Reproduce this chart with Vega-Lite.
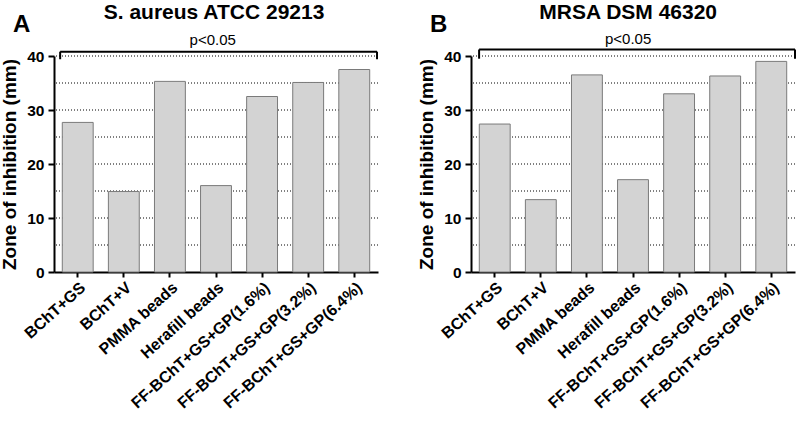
{
  "$schema": "https://vega.github.io/schema/vega-lite/v6.json",
  "padding": {"left": 0, "top": 2, "right": 0, "bottom": 0},
  "spacing": 38,
  "config": {
    "font": "Liberation Sans",
    "view": {"stroke": null},
    "axis": {"labelFont": "Liberation Sans", "titleFont": "Liberation Sans", "labelColor": "#000", "titleColor": "#000", "domainColor": "#000", "tickColor": "#000"}
  },
  "hconcat": [
    {
      "width": 324,
      "height": 216,
      "layer": [
        {
          "data": {"values": [{"g": 5}, {"g": 10}, {"g": 15}, {"g": 20}, {"g": 25}, {"g": 30}, {"g": 35}, {"g": 40}]},
          "mark": {"type": "rule", "color": "#000", "strokeWidth": 1, "strokeDash": [1, 2]},
          "encoding": {
            "y": {"field": "g", "type": "quantitative"}
          }
        },
        {
          "data": {"values": [
            {"cat": "BChT+GS", "value": 27.7},
            {"cat": "BChT+V", "value": 14.9},
            {"cat": "PMMA beads", "value": 35.3},
            {"cat": "Herafill beads", "value": 16.0},
            {"cat": "FF-BChT+GS+GP(1.6%)", "value": 32.5},
            {"cat": "FF-BChT+GS+GP(3.2%)", "value": 35.1},
            {"cat": "FF-BChT+GS+GP(6.4%)", "value": 37.5}
          ]},
          "mark": {"type": "bar", "fill": "#d3d3d3", "stroke": "#7a7a7a", "strokeWidth": 1},
          "encoding": {
            "x": {"field": "cat", "type": "nominal", "sort": null,
              "scale": {"paddingInner": 0.33, "paddingOuter": 0.18},
              "axis": {"title": null, "labelAngle": -42, "labelFontSize": 16, "labelFontWeight": "bold", "domainWidth": 2, "tickWidth": 2, "tickSize": 5, "labelPadding": 2}},
            "y": {"field": "value", "type": "quantitative",
              "scale": {"domain": [0, 40], "nice": false},
              "axis": {"title": "Zone of inhibition (mm)", "titleFontSize": 19, "titleFontWeight": "bold", "titlePadding": 7,
                "labelFontSize": 15.5, "labelFontWeight": "bold", "labelPadding": 4, "domainWidth": 2, "tickWidth": 2,
                "values": [0, 5, 10, 15, 20, 25, 30, 35, 40],
                "labelExpr": "datum.value % 10 === 0 ? datum.label : ''",
                "tickSize": {"condition": {"test": "datum.value % 10 === 0", "value": 6}, "value": 3},
                "grid": false}}
          }
        },
        {
          "data": {"values": [{"x1": 0.019, "x2": 0.997, "y": 40.8}]},
          "mark": {"type": "rule", "color": "#000", "strokeWidth": 2},
          "encoding": {
            "x": {"field": "x1", "type": "quantitative", "scale": {"domain": [0, 1]}, "axis": null},
            "x2": {"field": "x2"},
            "y": {"field": "y", "type": "quantitative"}
          }
        },
        {
          "data": {"values": [{"x": 0.019, "y1": 39.4, "y2": 40.8}, {"x": 0.997, "y1": 39.4, "y2": 40.8}]},
          "mark": {"type": "rule", "color": "#000", "strokeWidth": 2},
          "encoding": {
            "x": {"field": "x", "type": "quantitative", "scale": {"domain": [0, 1]}, "axis": null},
            "y": {"field": "y1", "type": "quantitative"},
            "y2": {"field": "y2"}
          }
        },
        {
          "data": {"values": [{"x": 0.49, "y": 42.9, "t": "p<0.05"}]},
          "mark": {"type": "text", "color": "#000", "baseline": "middle", "fontSize": 15},
          "encoding": {
            "x": {"field": "x", "type": "quantitative", "scale": {"domain": [0, 1]}, "axis": null},
            "y": {"field": "y", "type": "quantitative"},
            "text": {"field": "t"}
          }
        },
        {
          "data": {"values": [{"x": -0.1, "y": 45.7, "t": "A"}]},
          "mark": {"type": "text", "color": "#000", "baseline": "middle", "fontSize": 24, "fontWeight": "bold"},
          "encoding": {
            "x": {"field": "x", "type": "quantitative", "scale": {"domain": [0, 1]}, "axis": null},
            "y": {"field": "y", "type": "quantitative"},
            "text": {"field": "t"}
          }
        },
        {
          "data": {"values": [{"x": 0.494, "y": 47.9, "t": "S. aureus ATCC 29213"}]},
          "mark": {"type": "text", "color": "#000", "baseline": "middle", "fontSize": 21, "fontWeight": "bold"},
          "encoding": {
            "x": {"field": "x", "type": "quantitative", "scale": {"domain": [0, 1]}, "axis": null},
            "y": {"field": "y", "type": "quantitative"},
            "text": {"field": "t"}
          }
        }
      ],
      "resolve": {"scale": {"x": "independent"}}
    },
    {
      "width": 324,
      "height": 216,
      "layer": [
        {
          "data": {"values": [{"g": 5}, {"g": 10}, {"g": 15}, {"g": 20}, {"g": 25}, {"g": 30}, {"g": 35}, {"g": 40}]},
          "mark": {"type": "rule", "color": "#000", "strokeWidth": 1, "strokeDash": [1, 2]},
          "encoding": {
            "y": {"field": "g", "type": "quantitative"}
          }
        },
        {
          "data": {"values": [
            {"cat": "BChT+GS", "value": 27.4},
            {"cat": "BChT+V", "value": 13.4},
            {"cat": "PMMA beads", "value": 36.5},
            {"cat": "Herafill beads", "value": 17.1},
            {"cat": "FF-BChT+GS+GP(1.6%)", "value": 33.0},
            {"cat": "FF-BChT+GS+GP(3.2%)", "value": 36.3},
            {"cat": "FF-BChT+GS+GP(6.4%)", "value": 39.0}
          ]},
          "mark": {"type": "bar", "fill": "#d3d3d3", "stroke": "#7a7a7a", "strokeWidth": 1},
          "encoding": {
            "x": {"field": "cat", "type": "nominal", "sort": null,
              "scale": {"paddingInner": 0.33, "paddingOuter": 0.18},
              "axis": {"title": null, "labelAngle": -42, "labelFontSize": 16, "labelFontWeight": "bold", "domainWidth": 2, "tickWidth": 2, "tickSize": 5, "labelPadding": 2}},
            "y": {"field": "value", "type": "quantitative",
              "scale": {"domain": [0, 40], "nice": false},
              "axis": {"title": "Zone of inhibition (mm)", "titleFontSize": 19, "titleFontWeight": "bold", "titlePadding": 7,
                "labelFontSize": 15.5, "labelFontWeight": "bold", "labelPadding": 4, "domainWidth": 2, "tickWidth": 2,
                "values": [0, 5, 10, 15, 20, 25, 30, 35, 40],
                "labelExpr": "datum.value % 10 === 0 ? datum.label : ''",
                "tickSize": {"condition": {"test": "datum.value % 10 === 0", "value": 6}, "value": 3},
                "grid": false}}
          }
        },
        {
          "data": {"values": [{"x1": 0.025, "x2": 1.0, "y": 41.2}]},
          "mark": {"type": "rule", "color": "#000", "strokeWidth": 2},
          "encoding": {
            "x": {"field": "x1", "type": "quantitative", "scale": {"domain": [0, 1]}, "axis": null},
            "x2": {"field": "x2"},
            "y": {"field": "y", "type": "quantitative"}
          }
        },
        {
          "data": {"values": [{"x": 0.025, "y1": 39.5, "y2": 41.2}, {"x": 1.0, "y1": 39.5, "y2": 41.2}]},
          "mark": {"type": "rule", "color": "#000", "strokeWidth": 2},
          "encoding": {
            "x": {"field": "x", "type": "quantitative", "scale": {"domain": [0, 1]}, "axis": null},
            "y": {"field": "y1", "type": "quantitative"},
            "y2": {"field": "y2"}
          }
        },
        {
          "data": {"values": [{"x": 0.485, "y": 43.1, "t": "p<0.05"}]},
          "mark": {"type": "text", "color": "#000", "baseline": "middle", "fontSize": 15},
          "encoding": {
            "x": {"field": "x", "type": "quantitative", "scale": {"domain": [0, 1]}, "axis": null},
            "y": {"field": "y", "type": "quantitative"},
            "text": {"field": "t"}
          }
        },
        {
          "data": {"values": [{"x": -0.1, "y": 45.7, "t": "B"}]},
          "mark": {"type": "text", "color": "#000", "baseline": "middle", "fontSize": 24, "fontWeight": "bold"},
          "encoding": {
            "x": {"field": "x", "type": "quantitative", "scale": {"domain": [0, 1]}, "axis": null},
            "y": {"field": "y", "type": "quantitative"},
            "text": {"field": "t"}
          }
        },
        {
          "data": {"values": [{"x": 0.485, "y": 47.9, "t": "MRSA DSM 46320"}]},
          "mark": {"type": "text", "color": "#000", "baseline": "middle", "fontSize": 21, "fontWeight": "bold"},
          "encoding": {
            "x": {"field": "x", "type": "quantitative", "scale": {"domain": [0, 1]}, "axis": null},
            "y": {"field": "y", "type": "quantitative"},
            "text": {"field": "t"}
          }
        }
      ],
      "resolve": {"scale": {"x": "independent"}}
    }
  ]
}
